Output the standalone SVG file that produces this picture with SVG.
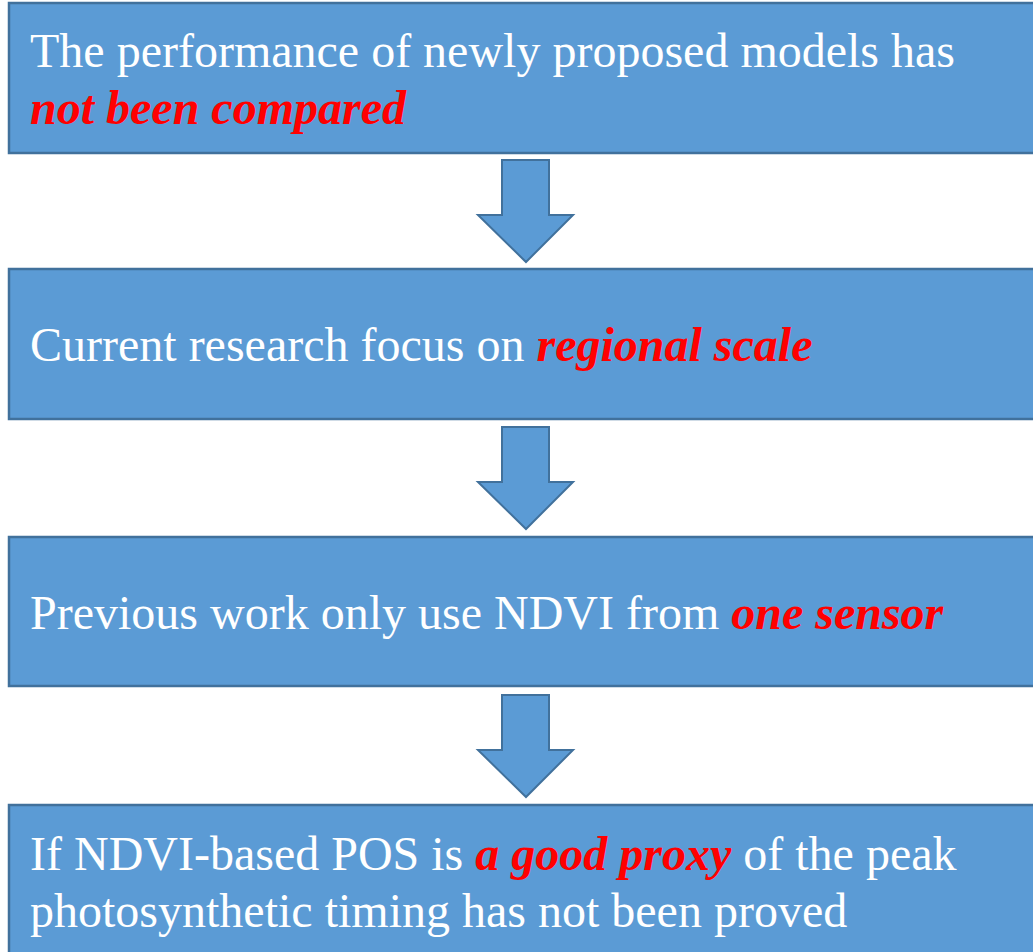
<svg xmlns="http://www.w3.org/2000/svg" width="1033" height="952" viewBox="0 0 1033 952">
<style>
.box{fill:#5B9BD5;stroke:#41719C;stroke-width:2.5}
.arr{fill:#5B9BD5;stroke:#41719C;stroke-width:2;stroke-linejoin:miter}
.t{font-family:"Liberation Serif","Times New Roman",serif;font-size:48px;fill:#FFFFFF}
.h{fill:#FF0000;font-weight:bold;font-style:italic}
</style>
<rect width="1033" height="952" fill="#FFFFFF"/>
<g id="node1">
<rect class="box" x="9" y="3" width="1040" height="150"/>
<text class="t" x="30" y="67" xml:space="preserve">The performance of newly proposed models has</text>
<text class="t" x="30" y="124"><tspan class="h">not been compared</tspan></text>
</g>
<g id="node2">
<rect class="box" x="9" y="269" width="1040" height="150"/>
<text class="t" x="30" y="361" xml:space="preserve">Current research focus on <tspan class="h">regional scale</tspan></text>
</g>
<g id="node3">
<rect class="box" x="9" y="537" width="1040" height="149"/>
<text class="t" x="30" y="629" xml:space="preserve">Previous work only use NDVI from <tspan class="h">one sensor</tspan></text>
</g>
<g id="node4">
<rect class="box" x="9" y="805" width="1040" height="160"/>
<text class="t" x="30" y="870" xml:space="preserve">If NDVI-based POS is <tspan class="h">a good proxy</tspan> of the peak</text>
<text class="t" x="30" y="927">photosynthetic timing has not been proved</text>
</g>
<g id="connectors">
<polygon class="arr" points="502,160 549,160 549,215 573,215 526,262 478,215 502,215"/>
<polygon class="arr" points="502,427 549,427 549,482 573,482 526,529 478,482 502,482"/>
<polygon class="arr" points="502,695 549,695 549,750 573,750 526,797 478,750 502,750"/>
</g>
</svg>
